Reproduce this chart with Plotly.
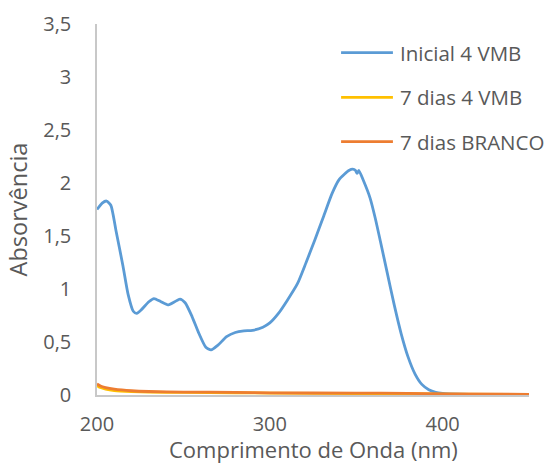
import plotly.graph_objects as go

# Wavelength (nm) and absorbance readings
wl_inicial = [200, 203, 205.5, 208, 211, 215, 218, 221, 223, 226, 230, 233, 237, 241, 245, 248,
              251, 255, 259, 263, 266, 270, 275, 280, 285, 290, 296, 300, 305, 310, 316, 321,
              326, 331, 336, 340, 343, 346, 348, 349.5, 350.5, 351.5, 354, 358, 361, 364, 368,
              372, 376, 380, 384, 388, 392, 396, 400, 410, 420, 450]
abs_inicial = [1.75, 1.81, 1.83, 1.79, 1.55, 1.22, 0.95, 0.79, 0.77, 0.81, 0.88, 0.91, 0.88, 0.85,
               0.88, 0.905, 0.87, 0.74, 0.58, 0.45, 0.425, 0.47, 0.55, 0.59, 0.605, 0.61, 0.64,
               0.68, 0.77, 0.89, 1.05, 1.25, 1.46, 1.68, 1.90, 2.03, 2.08, 2.12, 2.13, 2.12,
               2.09, 2.12, 2.03, 1.86, 1.67, 1.45, 1.15, 0.85, 0.58, 0.36, 0.20, 0.10, 0.05,
               0.025, 0.015, 0.008, 0.006, 0.004]

wl_7d = [200, 202, 205, 210, 220, 230, 250, 280, 300, 350, 380, 400, 450]
abs_7d_vmb = [0.09, 0.07, 0.055, 0.042, 0.032, 0.027, 0.024, 0.021, 0.018, 0.014, 0.012, 0.009, 0.005]
abs_7d_branco = [0.105, 0.085, 0.07, 0.055, 0.04, 0.033, 0.028, 0.025, 0.02, 0.018, 0.015, 0.01, 0.006]

series_names = ["Inicial 4 VMB", "7 dias 4 VMB", "7 dias BRANCO"]
series_colors = ["#5B9BD5", "#FFC000", "#ED7D31"]

x_ticks = [200, 300, 400]
y_ticks = [0, 0.5, 1, 1.5, 2, 2.5, 3, 3.5]

FONT = "'Open Sans', sans-serif"
TEXT = "#595959"

fig = go.Figure()
for xs, ys, name, color in [(wl_inicial, abs_inicial, series_names[0], series_colors[0]),
                            (wl_7d, abs_7d_vmb, series_names[1], series_colors[1]),
                            (wl_7d, abs_7d_branco, series_names[2], series_colors[2])]:
    fig.add_trace(go.Scatter(x=xs, y=ys, mode="lines", name=name,
                             line=dict(color=color, width=2.8, shape="spline", smoothing=0.6),
                             showlegend=False))

# Legend drawn as line samples with labels in the upper right of the plot
legend_y = [0.923, 0.802, 0.683]
for name, color, ly in zip(series_names, series_colors, legend_y):
    fig.add_shape(type="line", xref="paper", yref="paper",
                  x0=0.565, x1=0.685, y0=ly, y1=ly,
                  line=dict(color=color, width=2.8))
    fig.add_annotation(xref="paper", yref="paper", x=0.697, y=ly, text=name,
                       showarrow=False, xanchor="left", yanchor="middle",
                       font=dict(family=FONT, size=20.5, color=TEXT))

# X axis title placed below the tick labels, kept inside the page
fig.add_annotation(xref="paper", yref="paper", x=0.5, y=-0.191,
                   text="Comprimento de Onda (nm)", showarrow=False,
                   xanchor="center", yanchor="bottom",
                   font=dict(family=FONT, size=22, color=TEXT))

fig.update_layout(
    width=547, height=468,
    margin=dict(l=97, r=18, t=24, b=73),
    paper_bgcolor="white", plot_bgcolor="white",
    separators=", ",
    font=dict(family=FONT, size=20, color=TEXT),
    showlegend=False,
)
fig.update_xaxes(range=[200, 450], tickvals=x_ticks, showgrid=False, zeroline=False,
                 showline=True, linecolor="#C8C8C8", linewidth=1.5, ticks="",
                 automargin=False, ticklabelstandoff=10,
                 tickfont=dict(family=FONT, size=20, color=TEXT))
fig.update_yaxes(range=[0, 3.5], tickvals=y_ticks, showgrid=False, zeroline=False,
                 showline=True, linecolor="#C8C8C8", linewidth=1.5, ticks="",
                 automargin=False, ticklabelstandoff=20,
                 title=dict(text="Absorvência", standoff=9,
                            font=dict(family=FONT, size=23.5, color=TEXT)),
                 tickfont=dict(family=FONT, size=20, color=TEXT))

fig.write_html("out.html")
